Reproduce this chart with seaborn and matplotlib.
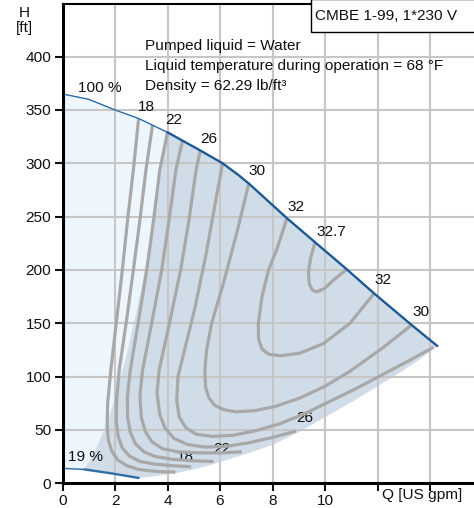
import matplotlib
matplotlib.use("Agg")
import matplotlib.pyplot as plt
import matplotlib.patches as mpatches
import seaborn as sns

# ---------------- data ----------------
QH_Q = [0, 1.0, 2.0, 2.9, 4.0, 5.25, 6.1, 6.7, 7.1, 8.55, 9.62, 10.83, 11.87, 13.3, 14.28]
QH_H = [365, 360, 350, 342, 329, 312, 300, 289, 281, 248.5, 226, 200.6, 178, 148.4, 128.7]

MIN_Q = [0, 0.84, 1.87, 2.9]
MIN_H = [14, 13, 9.3, 5]

EDGE_Q = [0.84, 1.2, 1.5, 1.7, 2.0, 2.5, 3.0, 3.5, 4.0]
EDGE_H = [13, 28, 45, 57, 80, 126, 182, 248, 329]

LOW_Q = [2.9, 3.6, 4.3, 5.0, 5.75, 6.85, 8.0, 8.92, 10.0, 11.0, 12.0, 12.86, 13.6, 14.28]
LOW_H = [5, 7, 9.5, 13, 18, 26.5, 36, 47, 62, 76, 91, 104, 116, 128.7]

E18_Q = [2.9, 2.70, 2.48, 2.28, 2.06, 1.84, 1.72, 1.70, 1.75, 1.88, 2.1, 2.45, 2.9, 3.6, 4.3]
E18_H = [342, 294, 247, 200, 153, 106, 75, 55, 40, 30, 22, 16.5, 13, 11, 10.5]
E20_Q = [3.43, 3.18, 2.95, 2.70, 2.44, 2.16, 2.06, 2.05, 2.12, 2.28, 2.55, 2.95, 3.5, 4.2, 4.9]
E20_H = [336, 294, 247, 200, 153, 106, 78, 58, 44, 33, 25.5, 20.5, 18, 16.5, 15.5]
E22_Q = [4.0, 3.71, 3.47, 3.21, 2.90, 2.58, 2.47, 2.48, 2.58, 2.78, 3.1, 3.55, 4.2, 5.0, 5.75]
E22_H = [329, 294, 247, 200, 153, 106, 80, 62, 48, 37, 29.5, 25, 22.5, 21, 20.5]
E24_Q = [4.57, 4.32, 4.06, 3.78, 3.42, 3.05, 2.95, 3.0, 3.15, 3.4, 3.8, 4.4, 5.2, 6.0, 6.83]
E24_H = [321, 294, 247, 200, 153, 106, 82, 62, 49, 39, 32.5, 29.5, 28.5, 28.5, 29.5]
E26_Q = [5.25, 5.09, 4.82, 4.50, 4.10, 3.68, 3.6, 3.7, 3.9, 4.25, 4.75, 5.4, 6.2, 7.1, 8.0, 8.9]
E26_H = [312, 294, 247, 200, 153, 106, 85, 65, 52, 42, 36.5, 34, 34.5, 38, 43, 49]
E28_Q = [6.1, 5.8, 5.47, 5.05, 4.65, 4.40, 4.35, 4.45, 4.7, 5.1, 5.7, 6.5, 7.4, 8.3, 9.2, 10.2, 11.2, 12.2, 13.2, 14.13]
E28_H = [300, 260, 215, 165, 125, 100, 78, 62, 52, 46, 44, 45, 49.5, 56, 65, 77, 89, 102, 115, 127.5]
E30_Q = [7.1, 6.63, 6.13, 5.68, 5.49, 5.42, 5.45, 5.58, 5.8, 6.15, 6.6, 7.3, 8.1, 9.05, 10.0, 10.95, 12.2, 13.3]
E30_H = [281, 234, 187.5, 150, 125, 105, 90, 80, 73, 69, 67, 68, 72, 80, 91, 105, 127, 148.4]
E32_Q = [8.55, 8.16, 7.85, 7.6, 7.46, 7.47, 7.6, 7.85, 8.3, 9.05, 9.94, 10.95, 11.87]
E32_H = [248.5, 219, 200, 175, 150, 135, 126, 121, 119.5, 122, 131, 150, 178]
E327_Q = [9.62, 9.45, 9.37, 9.4, 9.52, 9.7, 10.0, 10.32, 10.83]
E327_H = [226, 211, 198, 187, 181, 179.5, 183, 190.5, 200.6]

EFF_LINES = [(E18_Q, E18_H), (E20_Q, E20_H), (E22_Q, E22_H), (E24_Q, E24_H),
             (E26_Q, E26_H), (E28_Q, E28_H), (E30_Q, E30_H), (E32_Q, E32_H),
             (E327_Q, E327_H)]

EFF_LABELS = ["18", "22", "26", "30", "32", "32.7", "32", "30", "26", "22", "18"]

X_TICKS = [0, 2, 4, 6, 8, 10, 12, 14]
X_TICK_LABELS = ["0", "2", "4", "6", "8", "10", "", ""]
Y_TICKS = [0, 50, 100, 150, 200, 250, 300, 350, 400]
Y_TICK_LABELS = ["0", "50", "100", "150", "200", "250", "300", "350", "400"]

INFO_LINES = ["Pumped liquid = Water",
              "Liquid temperature during operation = 68 °F",
              "Density = 62.29 lb/ft³"]
TITLE_BOX = "CMBE 1-99, 1*230 V"

# ---------------- style ----------------
sns.set_theme(style="white")
plt.rcParams['font.family'] = ['Liberation Sans', 'DejaVu Sans']
FS = 11.1

W, H = 474, 508
fig = plt.figure(figsize=(W / 100, H / 100), dpi=100)
x0, y0, x1, y1 = 62.5, 483.3, 474, 4
ax = fig.add_axes([x0 / W, (H - y0) / H, (x1 - x0) / W, (y0 - y1) / H])
XMAX = (x1 - x0) / 26.25
YMAX = (y0 - y1) / 1.0667
ax.set_xlim(0, XMAX)
ax.set_ylim(0, YMAX)

LIGHT = "#eef6fd"
DARK = "#d0dce8"
GRAY = "#a8a8a8"
BLUE = "#1d5a94"
GRID = "#c6c6c6"

# grid first (plain lines), then fills drawn semi-transparently is not wanted;
# fills are opaque at low zorder and grid lines sit above them
for xv in X_TICKS[1:]:
    ax.plot([xv, xv], [0, YMAX], color=GRID, linewidth=1.5, zorder=2.2,
            solid_capstyle="butt")
for yv in Y_TICKS[1:]:
    ax.plot([0, XMAX], [yv, yv], color=GRID, linewidth=1.5, zorder=2.2,
            solid_capstyle="butt")

# full (light) region
i4 = QH_Q.index(4.0)
outer_x = list(QH_Q) + LOW_Q[::-1] + MIN_Q[::-1]
outer_y = list(QH_H) + LOW_H[::-1] + MIN_H[::-1]
ax.fill(outer_x, outer_y, facecolor=LIGHT, edgecolor="none", zorder=0.5)
# operating (dark) region
dark_x = QH_Q[i4:] + LOW_Q[::-1] + [MIN_Q[2], MIN_Q[1]] + EDGE_Q
dark_y = QH_H[i4:] + LOW_H[::-1] + [MIN_H[2], MIN_H[1]] + EDGE_H
ax.fill(dark_x, dark_y, facecolor=DARK, edgecolor="none", zorder=0.6)

# efficiency lines
for q, h in EFF_LINES:
    sns.lineplot(x=q, y=h, sort=False, estimator=None, color=GRAY, lw=2.3,
                 ax=ax, zorder=3, solid_capstyle="butt")

# QH curves
sns.lineplot(x=QH_Q[:i4 + 1], y=QH_H[:i4 + 1], sort=False, estimator=None,
             color="#2a6aa8", lw=1.0, ax=ax, zorder=4)
sns.lineplot(x=QH_Q[i4:], y=QH_H[i4:], sort=False, estimator=None,
             color=BLUE, lw=1.7, ax=ax, zorder=4)
sns.lineplot(x=MIN_Q[:2], y=MIN_H[:2], sort=False, estimator=None,
             color="#2a6aa8", lw=1.0, ax=ax, zorder=4)
sns.lineplot(x=MIN_Q[1:], y=MIN_H[1:], sort=False, estimator=None,
             color="#2f6ea6", lw=1.7, ax=ax, zorder=4)

# efficiency labels
label_pos = [(3.21, 353), (4.25, 341), (5.56, 323), (7.4, 293), (8.9, 259),
             (10.25, 236), (12.22, 190.6), (13.64, 161), (9.24, 61), (6.06, 32),
             (4.67, 25)]
for t, (q, h) in zip(EFF_LABELS, label_pos):
    ax.text(q, h, t, ha="center", va="center", fontsize=FS, color="#111111", zorder=2.9)
ax.text(1.43, 371, "100 %", ha="center", va="center", fontsize=FS, color="#111111")
ax.text(0.86, 25, "19 %", ha="center", va="center", fontsize=FS, color="#111111", zorder=2.9)

# info text
for i, line in enumerate(INFO_LINES):
    ax.text(145 / W * 0 + (145 - x0) / 26.25, (y0 - (46 + 20 * i)) / 1.0667, line,
            ha="left", va="center", fontsize=FS, color="#111111", zorder=5)

# model box (in data coordinates of the axes)
bx = (311 - x0) / 26.25
by = (y0 - 31.7) / 1.0667
ax.add_patch(mpatches.Rectangle((bx, by), XMAX - bx + 1, YMAX - by + 5,
                                facecolor="white", edgecolor="black", lw=1.0,
                                zorder=6, clip_on=False))
ax.text((315 - x0) / 26.25, (y0 - 16) / 1.0667, TITLE_BOX, ha="left", va="center",
        fontsize=FS, color="#111111", zorder=7)

# axes decoration
ax.set_xticks(X_TICKS)
ax.set_xticklabels(X_TICK_LABELS)
ax.set_yticks(Y_TICKS)
ax.set_yticklabels(Y_TICK_LABELS)
ax.tick_params(axis="both", direction="out", length=6, width=1.5,
               labelsize=FS, pad=2, color="#111111", labelcolor="#111111")
ax.tick_params(axis="x", bottom=True)
ax.tick_params(axis="y", left=True)
ax.set_xlabel("")
ax.set_ylabel("")
for s in ["left", "bottom"]:
    ax.spines[s].set_linewidth(2.2)
    ax.spines[s].set_color("black")
    ax.spines[s].set_zorder(5)
ax.spines["top"].set_linewidth(1.5)
ax.spines["top"].set_color("black")
ax.spines["right"].set_visible(False)
ax.set_xlim(0, XMAX)
ax.set_ylim(0, YMAX)

fig.text(24 / W, 1 - 13 / H, "H", ha="center", va="center", fontsize=FS, color="#111111")
fig.text(24 / W, 1 - 28 / H, "[ft]", ha="center", va="center", fontsize=FS, color="#111111")
fig.text(422 / W, 1 - 495 / H, "Q [US gpm]", ha="center", va="center", fontsize=FS,
         color="#111111")

fig.savefig("out.png", dpi=100)
